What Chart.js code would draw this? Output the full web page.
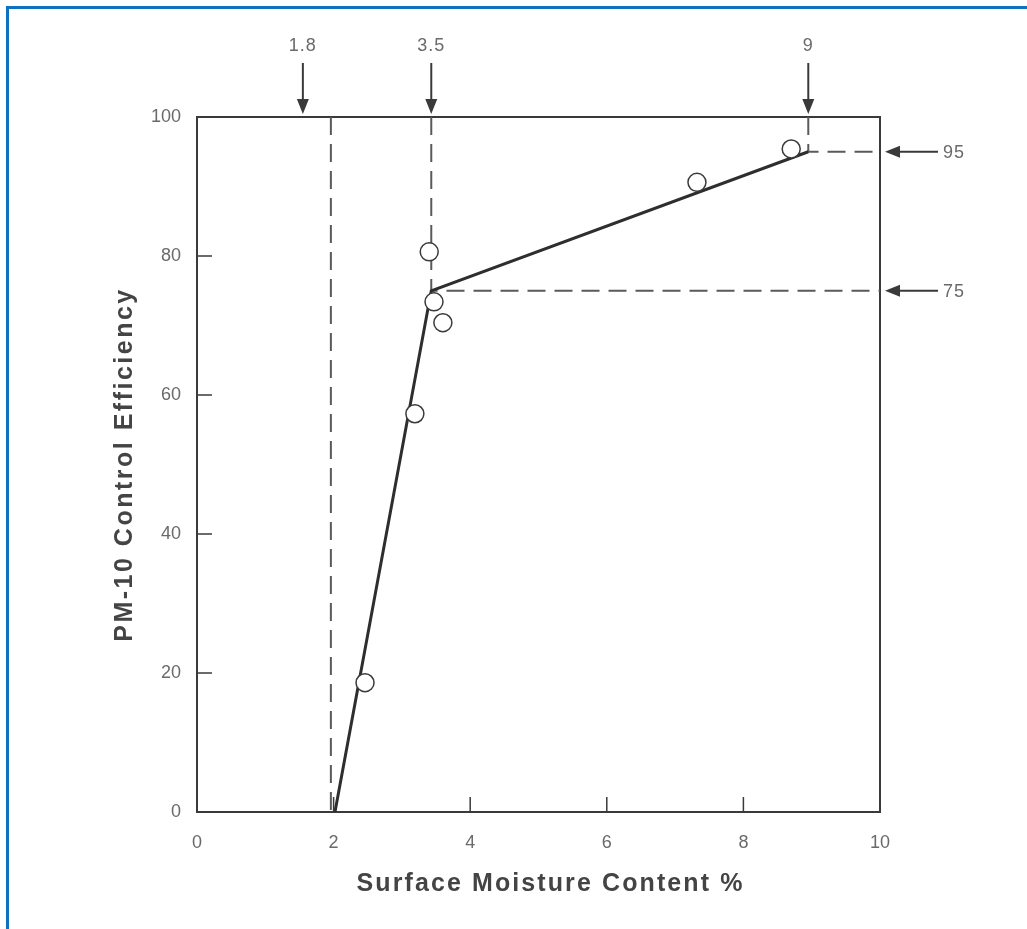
<!DOCTYPE html>
<html>
<head>
<meta charset="utf-8">
<script src="https://cdn.jsdelivr.net/npm/chart.js@4.4.1/dist/chart.umd.min.js"></script>
<style>
  html, body { margin: 0; padding: 0; background: #fff; }
  #wrap { position: relative; width: 1027px; height: 929px; overflow: hidden; }
  #frame { position: absolute; left: 6px; top: 6px; right: -10px; bottom: -10px;
           border-top: 3px solid #0f72c0; border-left: 3px solid #0f72c0; }
  #chart { position: absolute; left: 0; top: 0; }
</style>
</head>
<body>
<div id="wrap">
  <div id="frame"></div>
  <canvas id="chart" width="1027" height="929"></canvas>
</div>
<script>
// measured points (moisture %, efficiency %)
const moisture = [2.46, 3.19, 3.40, 3.47, 3.60, 7.32, 8.70];
const efficiency = [18.6, 57.3, 80.6, 73.4, 70.4, 90.6, 95.4];

// fitted broken line
const fitX = [2.02, 3.43, 8.95];
const fitY = [0, 75, 95];

// dashed guide lines
const guideX = [1.96, 3.43, 8.95];
const guideStopY = [0, 75, 95];

// arrows outside the frame
const topMarkX = [1.55, 3.43, 8.95];
const topMarkLabels = ['1.8', '3.5', '9'];
const rightMarkY = [95, 75];
const rightMarkLabels = ['95', '75'];

const xTicks = [0, 2, 4, 6, 8, 10];
const yTicks = [0, 20, 40, 60, 80, 100];
const xTitle = 'Surface Moisture Content %';
const yTitle = 'PM-10 Control Efficiency';

const ink = '#3a3a3a';
const dashInk = '#5a5a5a';
const labelInk = '#6a6a6a';
const fontFam = "'Liberation Sans', Arial, sans-serif";

document.addEventListener("DOMContentLoaded", function () {
    const ctx = document.getElementById('chart');

    const pts = moisture.map((x, i) => ({ x: x, y: efficiency[i] }));
    const fit = fitX.map((x, i) => ({ x: x, y: fitY[i] }));

    // guide 0: full height; guides 1,2: down from top then across to right edge
    const guides = guideX.map((gx, i) => {
        const d = [{ x: gx, y: 100 }, { x: gx, y: guideStopY[i] }];
        if (i > 0) d.push({ x: 10, y: guideStopY[i] });
        return d;
    });

    const guideSets = guides.map(d => ({
        type: 'line',
        data: d,
        borderColor: dashInk,
        borderWidth: 2,
        borderDash: [18, 9],
        pointRadius: 0,
        fill: false,
        order: 3
    }));

    const decor = {
        id: 'decor',
        beforeDatasetsDraw(chart) {
            const c = chart.ctx;
            const a = chart.chartArea;
            const xs = chart.scales.x, ys = chart.scales.y;
            c.save();
            c.strokeStyle = ink;
            c.lineWidth = 2;
            c.strokeRect(a.left, a.top, a.right - a.left, a.bottom - a.top);
            // inward ticks
            c.lineWidth = 1.5;
            xTicks.slice(1, -1).forEach(v => {
                const px = xs.getPixelForValue(v);
                c.beginPath(); c.moveTo(px, a.bottom); c.lineTo(px, a.bottom - 15); c.stroke();
            });
            yTicks.slice(1, -1).forEach(v => {
                const py = ys.getPixelForValue(v);
                c.beginPath(); c.moveTo(a.left, py); c.lineTo(a.left + 15, py); c.stroke();
            });
            c.restore();
        },
        afterDraw(chart) {
            const c = chart.ctx;
            const a = chart.chartArea;
            const xs = chart.scales.x, ys = chart.scales.y;
            c.save();
            c.strokeStyle = ink;
            c.fillStyle = ink;
            c.lineWidth = 2;
            // top arrows
            topMarkX.forEach((v, i) => {
                const px = xs.getPixelForValue(v);
                const tip = a.top - 3;
                c.beginPath(); c.moveTo(px, a.top - 54); c.lineTo(px, tip - 10); c.stroke();
                c.beginPath(); c.moveTo(px, tip); c.lineTo(px - 6, tip - 15); c.lineTo(px + 6, tip - 15); c.closePath(); c.fill();
                c.font = '18px ' + fontFam;
                c.fillStyle = labelInk;
                c.textAlign = 'center'; c.textBaseline = 'middle';
                c.letterSpacing = '1px';
                c.fillText(topMarkLabels[i], px, a.top - 71);
                c.fillStyle = ink;
            });
            // right arrows
            rightMarkY.forEach((v, i) => {
                const py = ys.getPixelForValue(v);
                const tip = a.right + 5;
                c.beginPath(); c.moveTo(tip + 10, py); c.lineTo(a.right + 58, py); c.stroke();
                c.beginPath(); c.moveTo(tip, py); c.lineTo(tip + 15, py - 6); c.lineTo(tip + 15, py + 6); c.closePath(); c.fill();
                c.font = '18px ' + fontFam;
                c.fillStyle = labelInk;
                c.textAlign = 'left'; c.textBaseline = 'middle';
                c.letterSpacing = '1px';
                c.fillText(rightMarkLabels[i], a.right + 63, py + 1);
                c.fillStyle = ink;
            });
            // axis titles (wide letter spacing like the scan)
            c.fillStyle = '#444444';
            c.font = 'bold 25px ' + fontFam;
            c.letterSpacing = '2.1px';
            c.textAlign = 'center'; c.textBaseline = 'middle';
            c.fillText(xTitle, (a.left + a.right) / 2 + 12, a.bottom + 72);
            c.letterSpacing = '2.5px';
            c.translate(a.left - 72, (a.top + a.bottom) / 2);
            c.rotate(-Math.PI / 2);
            c.fillText(yTitle, 0, 0);
            c.restore();
        }
    };

    new Chart(ctx, {
        type: 'scatter',
        data: {
            datasets: [{
                label: 'Measured',
                data: pts,
                pointRadius: 9,
                pointBackgroundColor: '#ffffff',
                pointBorderColor: ink,
                pointBorderWidth: 1.5,
                showLine: false,
                order: 1
            }, {
                type: 'line',
                label: 'Fit',
                data: fit,
                borderColor: '#2e2e2e',
                borderWidth: 3,
                pointRadius: 0,
                fill: false,
                tension: 0,
                order: 2
            }].concat(guideSets)
        },
        options: {
            responsive: false,
            animation: false,
            layout: { padding: { left: 100, right: 147, top: 117, bottom: 0 } },
            plugins: { legend: { display: false }, tooltip: { enabled: false } },
            scales: {
                x: {
                    type: 'linear', min: 0, max: 10,
                    afterFit(s) { s.height = 117; },
                    afterBuildTicks(s) { s.ticks = xTicks.map(v => ({ value: v })); },
                    grid: { display: false, drawTicks: false },
                    border: { display: false },
                    ticks: { padding: 20, color: labelInk, font: { family: fontFam, size: 18 } }
                },
                y: {
                    type: 'linear', min: 0, max: 100,
                    afterFit(s) { s.width = 97; },
                    afterBuildTicks(s) { s.ticks = yTicks.map(v => ({ value: v })); },
                    grid: { display: false, drawTicks: false },
                    border: { display: false },
                    ticks: { padding: 16, color: labelInk, font: { family: fontFam, size: 18 } }
                }
            }
        },
        plugins: [decor]
    });
});
</script>
</body>
</html>
